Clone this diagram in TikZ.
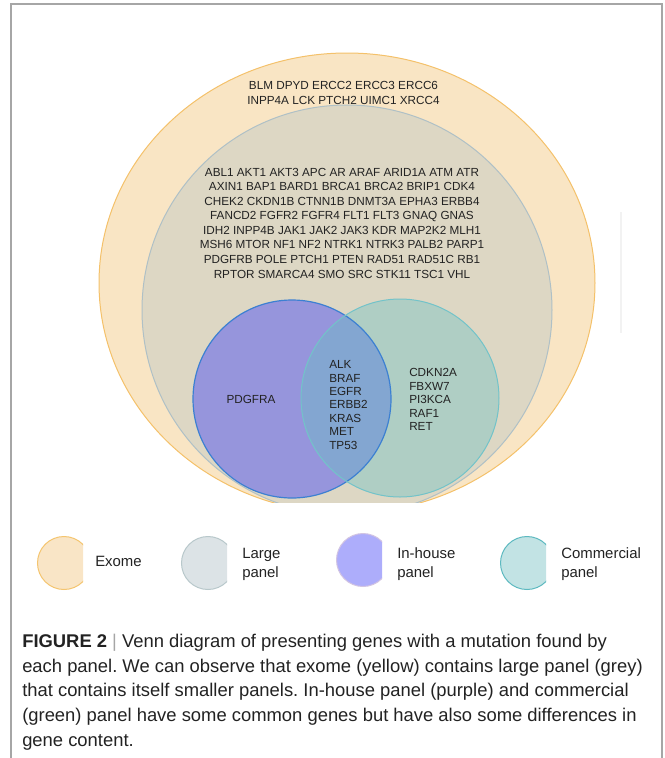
\documentclass[tikz,border=0pt]{standalone}
\usepackage{fontspec}
\setmainfont{Liberation Sans}
\usepackage{xcolor}
\usepackage{tikz}
\usetikzlibrary{positioning}
\frenchspacing

\definecolor{exomefill}{HTML}{F9E5C4}
\definecolor{exomeline}{HTML}{F4C16A}
\definecolor{largefill}{HTML}{DDD7C4}
\definecolor{largeline}{HTML}{AFC0C6}
\definecolor{inhousefill}{HTML}{9695DC}
\definecolor{inhouseline}{HTML}{3C80D2}
\definecolor{commercialfill}{HTML}{AFCEC4}
\definecolor{commercialline}{HTML}{72C3C9}
\definecolor{sharedfill}{HTML}{83A6D1}
% legend swatches
\definecolor{exomekey}{HTML}{F9E5C6}
\definecolor{largekey}{HTML}{DCE3E6}
\definecolor{inhousekey}{HTML}{ADADFB}
\definecolor{commercialkey}{HTML}{C2E3E4}
\definecolor{genetext}{HTML}{222222}
\definecolor{framegray}{HTML}{A6A6A6}

\begin{document}
\begin{tikzpicture}[x=0.75pt,y=-0.75pt,
  set/.style={draw=#1line,fill=#1fill,line width=0.75pt},
  genes/.style={align=center,inner sep=0pt,text=genetext,font=\fontsize{8.8}{10.93}\selectfont},
  genecol/.style={align=left,anchor=west,inner sep=0pt,text=genetext,font=\fontsize{8.8}{10.1}\selectfont},
  legtext/.style={anchor=west,align=left,inner sep=0pt,text=genetext,font=\fontsize{11.2}{14.25}\selectfont},
  swatch/.style={draw=#1,line width=0.75pt}]
\useasboundingbox (0,0) rectangle (665,758);
% frame, left open at the bottom
\draw[framegray,line width=1.1pt] (11,758) |- (662,4) -- (662,758);
\draw[black!5,line width=0.8pt] (621,212) -- (621,333);

% exome and large panel, cut flat at the bottom
\begin{scope}
  \clip (11,4) rectangle (662,502);
  \draw[set=exome] (347,283) ellipse [x radius=248, y radius=230];
  \draw[set=large] (347,310) circle [radius=205];
\end{scope}

% the two small panels and their overlap
\fill[inhousefill] (292,399) circle [radius=99];
\fill[commercialfill] (400,398) circle [radius=99];
\begin{scope}
  \clip (292,399) circle [radius=99];
  \fill[sharedfill] (400,398) circle [radius=99];
\end{scope}
\draw[inhouseline,line width=0.9pt] (292,399) circle [radius=99];
\draw[commercialline,line width=0.75pt] (400,398) circle [radius=99];

\node[genes] (exomegenes) at (343.5,93) {BLM DPYD ERCC2 ERCC3 ERCC6\\INPP4A LCK PTCH2 UIMC1 XRCC4};
\node[genes] (largegenes) at (342,223) {ABL1 AKT1 AKT3 APC AR ARAF ARID1A ATM ATR\\
  AXIN1 BAP1 BARD1 BRCA1 BRCA2 BRIP1 CDK4\\
  CHEK2 CKDN1B CTNN1B DNMT3A EPHA3 ERBB4\\
  FANCD2 FGFR2 FGFR4 FLT1 FLT3 GNAQ GNAS\\
  IDH2 INPP4B JAK1 JAK2 JAK3 KDR MAP2K2 MLH1\\
  MSH6 MTOR NF1 NF2 NTRK1 NTRK3 PALB2 PARP1\\
  PDGFRB POLE PTCH1 PTEN RAD51 RAD51C RB1\\
  RPTOR SMARCA4 SMO SRC STK11 TSC1 VHL};
\node[genes] (inhousegenes) at (251,399.3) {PDGFRA};
\node[genecol] (sharedgenes) at (329,405) {ALK\\BRAF\\EGFR\\ERBB2\\KRAS\\MET\\TP53};
\node[genecol] (commgenes) at (409,399.5) {CDKN2A\\FBXW7\\PI3KCA\\RAF1\\RET};

% legend swatches: circles cut on the right
\foreach \cx/\cy/\set/\edge in {64/563/exome/F4C56F, 208/563/large/B8C8CB,
                                 363/560/inhouse/D2C4E2, 527/563/commercial/5DB9C0}{
  \begin{scope}
    \clip (\cx-30,\cy-30) rectangle (\cx+19,\cy+30);
    \definecolor{swline}{HTML}{\edge}
    \filldraw[swatch=swline,fill=\set key] (\cx,\cy) circle [radius=26.5];
  \end{scope}
}
\node[legtext] (exomekey) at (95,561.5) {Exome};
\node[legtext] (largekey) at (242,564) {Large\\panel};
\node[legtext] (inhousekey) at (397,564) {In-house\\panel};
\node[legtext] (commkey) at (561,564) {Commercial\\panel};

\node[anchor=north west,align=left,inner sep=0pt,text=genetext,
      font=\fontsize{13.8}{18.45}\selectfont] (caption) at (22,634)
  {\textbf{FIGURE 2} {\color{framegray}|} Venn diagram of presenting genes with a mutation found by\\
   each panel. We can observe that exome (yellow) contains large panel (grey)\\
   that contains itself smaller panels. In-house panel (purple) and commercial\\
   (green) panel have some common genes but have also some differences in\\
   gene content.};
\end{tikzpicture}
\end{document}
